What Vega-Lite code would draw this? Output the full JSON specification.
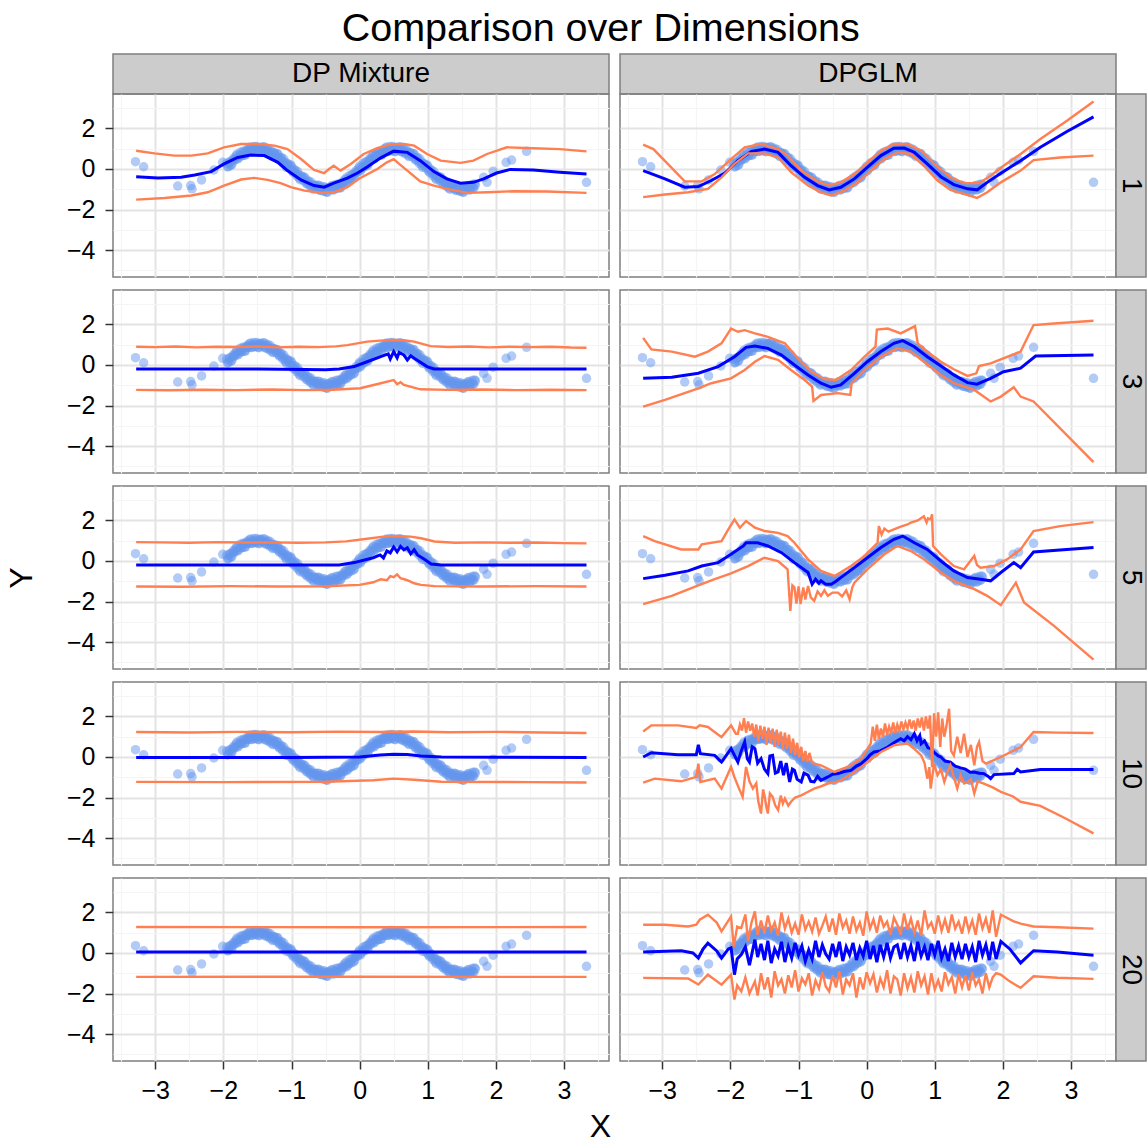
{
"$schema": "https://vega.github.io/schema/vega-lite/v6.json",
"title": {"text": "Comparison over Dimensions", "fontSize": 39.5, "fontWeight": "normal", "font": "Liberation Sans", "color": "#000000", "anchor": "middle", "offset": 4, "dx": 25},
"padding": {"left": 4, "top": 8, "right": 0, "bottom": 0},
"bounds": "flush",
"spacing": 0,
"columns": 4,
"datasets": {
"pts": [
{"x":-3.29,"y":0.36},{"x":-3.17,"y":0.11},{"x":-2.67,"y":-0.84},{"x":-2.48,"y":-0.82},{"x":-2.46,"y":-0.98},{"x":-2.32,"y":-0.54},{"x":-2.14,"y":-0.05},{"x":-2.01,"y":0.33},
{"x":1.82,"y":-0.41},{"x":1.87,"y":-0.66},{"x":1.96,"y":-0.11},{"x":2.15,"y":0.33},{"x":2.23,"y":0.44},{"x":2.45,"y":0.87},{"x":3.33,"y":-0.66},
{"x":-1.95,"y":0.28},{"x":-1.925,"y":0.13},{"x":-1.9,"y":0.34},{"x":-1.875,"y":0.23},{"x":-1.85,"y":0.53},{"x":-1.825,"y":0.47},{"x":-1.8,"y":0.73},{"x":-1.775,"y":0.56},{"x":-1.75,"y":0.83},{"x":-1.725,"y":0.66},{"x":-1.7,"y":0.84},{"x":-1.675,"y":0.7},{"x":-1.65,"y":0.97},{"x":-1.625,"y":0.87},{"x":-1.6,"y":1.09},{"x":-1.575,"y":0.88},{"x":-1.55,"y":1.11},{"x":-1.525,"y":0.9},{"x":-1.5,"y":1.03},{"x":-1.475,"y":0.85},{"x":-1.45,"y":1.07},{"x":-1.425,"y":0.92},{"x":-1.4,"y":1.09},{"x":-1.375,"y":0.83},{"x":-1.35,"y":1.01},{"x":-1.325,"y":0.75},{"x":-1.3,"y":0.84},{"x":-1.275,"y":0.61},{"x":-1.25,"y":0.79},{"x":-1.225,"y":0.6},{"x":-1.2,"y":0.73},{"x":-1.175,"y":0.43},{"x":-1.15,"y":0.57},{"x":-1.125,"y":0.28},{"x":-1.1,"y":0.34},{"x":-1.075,"y":0.08},{"x":-1.05,"y":0.24},{"x":-1.025,"y":0.03},{"x":-1.0,"y":0.14},{"x":-0.975,"y":-0.17},{"x":-0.95,"y":-0.04},{"x":-0.925,"y":-0.33},{"x":-0.9,"y":-0.28},{"x":-0.875,"y":-0.53},{"x":-0.85,"y":-0.37},{"x":-0.825,"y":-0.57},{"x":-0.8,"y":-0.45},{"x":-0.775,"y":-0.74},{"x":-0.75,"y":-0.59},{"x":-0.725,"y":-0.86},{"x":-0.7,"y":-0.78},{"x":-0.675,"y":-1.0},{"x":-0.65,"y":-0.81},{"x":-0.625,"y":-0.97},{"x":-0.6,"y":-0.81},{"x":-0.575,"y":-1.06},{"x":-0.55,"y":-0.87},{"x":-0.525,"y":-1.1},{"x":-0.5,"y":-0.97},{"x":-0.475,"y":-1.15},{"x":-0.45,"y":-0.91},{"x":-0.425,"y":-1.02},{"x":-0.4,"y":-0.81},{"x":-0.375,"y":-1.01},{"x":-0.35,"y":-0.77},{"x":-0.325,"y":-0.95},{"x":-0.3,"y":-0.78},{"x":-0.275,"y":-0.91},{"x":-0.25,"y":-0.63},{"x":-0.225,"y":-0.7},{"x":-0.2,"y":-0.45},{"x":-0.175,"y":-0.61},{"x":-0.15,"y":-0.33},{"x":-0.125,"y":-0.48},{"x":-0.1,"y":-0.28},{"x":-0.075,"y":-0.38},{"x":-0.05,"y":-0.08},{"x":-0.025,"y":-0.13},{"x":0,"y":0.14},{"x":0.025,"y":-0.01},{"x":0.05,"y":0.28},{"x":0.075,"y":0.13},{"x":0.1,"y":0.34},{"x":0.125,"y":0.23},{"x":0.15,"y":0.53},{"x":0.175,"y":0.47},{"x":0.2,"y":0.73},{"x":0.225,"y":0.56},{"x":0.25,"y":0.83},{"x":0.275,"y":0.66},{"x":0.3,"y":0.84},{"x":0.325,"y":0.7},{"x":0.35,"y":0.97},{"x":0.375,"y":0.87},{"x":0.4,"y":1.09},{"x":0.425,"y":0.88},{"x":0.45,"y":1.11},{"x":0.475,"y":0.9},{"x":0.5,"y":1.03},{"x":0.525,"y":0.85},{"x":0.55,"y":1.07},{"x":0.575,"y":0.92},{"x":0.6,"y":1.09},{"x":0.625,"y":0.83},{"x":0.65,"y":1.01},{"x":0.675,"y":0.75},{"x":0.7,"y":0.84},{"x":0.725,"y":0.61},{"x":0.75,"y":0.79},{"x":0.775,"y":0.6},{"x":0.8,"y":0.73},{"x":0.825,"y":0.43},{"x":0.85,"y":0.57},{"x":0.875,"y":0.28},{"x":0.9,"y":0.34},{"x":0.925,"y":0.08},{"x":0.95,"y":0.24},{"x":0.975,"y":0.03},{"x":1.0,"y":0.14},{"x":1.025,"y":-0.17},{"x":1.05,"y":-0.04},{"x":1.075,"y":-0.33},{"x":1.1,"y":-0.28},{"x":1.125,"y":-0.53},{"x":1.15,"y":-0.37},{"x":1.175,"y":-0.57},{"x":1.2,"y":-0.45},{"x":1.225,"y":-0.74},{"x":1.25,"y":-0.59},{"x":1.275,"y":-0.86},{"x":1.3,"y":-0.78},{"x":1.325,"y":-1.0},{"x":1.35,"y":-0.81},{"x":1.375,"y":-0.97},{"x":1.4,"y":-0.81},{"x":1.425,"y":-1.06},{"x":1.45,"y":-0.87},{"x":1.475,"y":-1.1},{"x":1.5,"y":-0.97},{"x":1.525,"y":-1.15},{"x":1.55,"y":-0.91},{"x":1.575,"y":-1.02},{"x":1.6,"y":-0.81},{"x":1.625,"y":-1.01},{"x":1.65,"y":-0.77},{"x":1.675,"y":-0.95},{"x":1.7,"y":-0.78},
{"x":-1.938,"y":0.1},{"x":-1.913,"y":0.34},{"x":-1.888,"y":0.18},{"x":-1.863,"y":0.43},{"x":-1.838,"y":0.44},{"x":-1.813,"y":0.64},{"x":-1.788,"y":0.5},{"x":-1.763,"y":0.68},{"x":-1.738,"y":0.65},{"x":-1.713,"y":0.87},{"x":-1.688,"y":0.68},{"x":-1.663,"y":0.9},{"x":-1.638,"y":0.88},{"x":-1.613,"y":1.04},{"x":-1.588,"y":0.86},{"x":-1.563,"y":1.0},{"x":-1.538,"y":0.93},{"x":-1.513,"y":1.11},{"x":-1.488,"y":0.87},{"x":-1.463,"y":1.05},{"x":-1.438,"y":0.98},{"x":-1.413,"y":1.09},{"x":-1.388,"y":0.86},{"x":-1.363,"y":0.95},{"x":-1.338,"y":0.83},{"x":-1.313,"y":0.96},{"x":-1.288,"y":0.68},{"x":-1.263,"y":0.81},{"x":-1.238,"y":0.7},{"x":-1.213,"y":0.77},{"x":-1.188,"y":0.5},{"x":-1.163,"y":0.55},{"x":-1.138,"y":0.39},{"x":-1.113,"y":0.49},{"x":-1.088,"y":0.18},{"x":-1.063,"y":0.28},{"x":-1.038,"y":0.15},{"x":-1.013,"y":0.2},{"x":-0.988,"y":-0.09},{"x":-0.963,"y":-0.05},{"x":-0.938,"y":-0.22},{"x":-0.913,"y":-0.12},{"x":-0.888,"y":-0.44},{"x":-0.863,"y":-0.33},{"x":-0.838,"y":-0.46},{"x":-0.813,"y":-0.4},{"x":-0.788,"y":-0.68},{"x":-0.763,"y":-0.62},{"x":-0.738,"y":-0.77},{"x":-0.713,"y":-0.65},{"x":-0.688,"y":-0.94},{"x":-0.663,"y":-0.8},{"x":-0.638,"y":-0.9},{"x":-0.613,"y":-0.8},{"x":-0.588,"y":-1.04},{"x":-0.563,"y":-0.94},{"x":-0.538,"y":-1.05},{"x":-0.513,"y":-0.89},{"x":-0.488,"y":-1.13},{"x":-0.463,"y":-0.95},{"x":-0.438,"y":-1.0},{"x":-0.413,"y":-0.85},{"x":-0.388,"y":-1.04},{"x":-0.363,"y":-0.89},{"x":-0.338,"y":-0.95},{"x":-0.313,"y":-0.74},{"x":-0.288,"y":-0.94},{"x":-0.263,"y":-0.71},{"x":-0.238,"y":-0.72},{"x":-0.213,"y":-0.53},{"x":-0.188,"y":-0.68},{"x":-0.163,"y":-0.49},{"x":-0.138,"y":-0.51},{"x":-0.113,"y":-0.27},{"x":-0.088,"y":-0.44},{"x":-0.063,"y":-0.18},{"x":-0.038,"y":-0.17},{"x":-0.013,"y":0.04},{"x":0.012,"y":-0.09},{"x":0.037,"y":0.11},{"x":0.062,"y":0.1},{"x":0.087,"y":0.34},{"x":0.112,"y":0.18},{"x":0.137,"y":0.43},{"x":0.162,"y":0.44},{"x":0.187,"y":0.64},{"x":0.212,"y":0.5},{"x":0.237,"y":0.68},{"x":0.262,"y":0.65},{"x":0.287,"y":0.87},{"x":0.312,"y":0.68},{"x":0.337,"y":0.9},{"x":0.362,"y":0.88},{"x":0.387,"y":1.04},{"x":0.412,"y":0.86},{"x":0.437,"y":1.0},{"x":0.462,"y":0.93},{"x":0.487,"y":1.11},{"x":0.512,"y":0.87},{"x":0.537,"y":1.05},{"x":0.562,"y":0.98},{"x":0.587,"y":1.09},{"x":0.612,"y":0.86},{"x":0.637,"y":0.95},{"x":0.662,"y":0.83},{"x":0.687,"y":0.96},{"x":0.712,"y":0.68},{"x":0.737,"y":0.81},{"x":0.762,"y":0.7},{"x":0.787,"y":0.77},{"x":0.812,"y":0.5},{"x":0.837,"y":0.55},{"x":0.862,"y":0.39},{"x":0.887,"y":0.49},{"x":0.912,"y":0.18},{"x":0.937,"y":0.28},{"x":0.962,"y":0.15},{"x":0.987,"y":0.2},{"x":1.012,"y":-0.09},{"x":1.037,"y":-0.05},{"x":1.062,"y":-0.22},{"x":1.087,"y":-0.12},{"x":1.112,"y":-0.44},{"x":1.137,"y":-0.33},{"x":1.162,"y":-0.46},{"x":1.187,"y":-0.4},{"x":1.212,"y":-0.68},{"x":1.237,"y":-0.62},{"x":1.262,"y":-0.77},{"x":1.287,"y":-0.65},{"x":1.312,"y":-0.94},{"x":1.337,"y":-0.8},{"x":1.362,"y":-0.9},{"x":1.387,"y":-0.8},{"x":1.412,"y":-1.04},{"x":1.437,"y":-0.94},{"x":1.462,"y":-1.05},{"x":1.487,"y":-0.89},{"x":1.512,"y":-1.13},{"x":1.537,"y":-0.95},{"x":1.562,"y":-1.0},{"x":1.587,"y":-0.85},{"x":1.612,"y":-1.04},{"x":1.637,"y":-0.89},{"x":1.662,"y":-0.95},{"x":1.687,"y":-0.74}
],
"a1": [
{"s":"m","x":-3.28,"y":-0.38},{"s":"m","x":-2.96,"y":-0.44},{"s":"m","x":-2.62,"y":-0.41},{"s":"m","x":-2.42,"y":-0.3},{"s":"m","x":-2.18,"y":-0.13},{"s":"m","x":-1.99,"y":0.25},{"s":"m","x":-1.79,"y":0.57},{"s":"m","x":-1.6,"y":0.69},{"s":"m","x":-1.4,"y":0.66},{"s":"m","x":-1.2,"y":0.33},{"s":"m","x":-1.06,"y":-0.08},{"s":"m","x":-0.86,"y":-0.54},{"s":"m","x":-0.67,"y":-0.82},{"s":"m","x":-0.52,"y":-0.9},{"s":"m","x":-0.38,"y":-0.7},{"s":"m","x":-0.18,"y":-0.45},{"s":"m","x":-0.03,"y":-0.2},{"s":"m","x":0.11,"y":0.1},{"s":"m","x":0.31,"y":0.55},{"s":"m","x":0.5,"y":0.88},{"s":"m","x":0.7,"y":0.82},{"s":"m","x":0.89,"y":0.41},{"s":"m","x":1.09,"y":-0.13},{"s":"m","x":1.28,"y":-0.49},{"s":"m","x":1.48,"y":-0.7},{"s":"m","x":1.67,"y":-0.66},{"s":"m","x":1.82,"y":-0.49},{"s":"m","x":2.01,"y":-0.2},{"s":"m","x":2.21,"y":-0.02},{"s":"m","x":2.55,"y":-0.05},{"s":"m","x":2.94,"y":-0.16},{"s":"m","x":3.33,"y":-0.25},
{"s":"u","x":-3.28,"y":0.9},{"s":"u","x":-3.01,"y":0.77},{"s":"u","x":-2.72,"y":0.66},{"s":"u","x":-2.47,"y":0.66},{"s":"u","x":-2.23,"y":0.77},{"s":"u","x":-1.99,"y":1.07},{"s":"u","x":-1.74,"y":1.23},{"s":"u","x":-1.5,"y":1.23},{"s":"u","x":-1.25,"y":1.15},{"s":"u","x":-1.06,"y":0.98},{"s":"u","x":-0.86,"y":0.49},{"s":"u","x":-0.67,"y":-0.05},{"s":"u","x":-0.52,"y":-0.21},{"s":"u","x":-0.45,"y":0.0},{"s":"u","x":-0.38,"y":0.16},{"s":"u","x":-0.28,"y":-0.08},{"s":"u","x":-0.13,"y":0.25},{"s":"u","x":0.06,"y":0.74},{"s":"u","x":0.26,"y":1.03},{"s":"u","x":0.45,"y":1.2},{"s":"u","x":0.65,"y":1.23},{"s":"u","x":0.8,"y":1.15},{"s":"u","x":0.99,"y":0.74},{"s":"u","x":1.19,"y":0.41},{"s":"u","x":1.48,"y":0.3},{"s":"u","x":1.67,"y":0.41},{"s":"u","x":1.87,"y":0.74},{"s":"u","x":2.16,"y":1.07},{"s":"u","x":2.55,"y":1.02},{"s":"u","x":2.94,"y":0.98},{"s":"u","x":3.33,"y":0.87},
{"s":"l","x":-3.28,"y":-1.51},{"s":"l","x":-2.86,"y":-1.43},{"s":"l","x":-2.47,"y":-1.31},{"s":"l","x":-2.23,"y":-1.15},{"s":"l","x":-1.99,"y":-0.82},{"s":"l","x":-1.74,"y":-0.52},{"s":"l","x":-1.55,"y":-0.44},{"s":"l","x":-1.35,"y":-0.54},{"s":"l","x":-1.16,"y":-0.7},{"s":"l","x":-1.01,"y":-0.9},{"s":"l","x":-0.81,"y":-1.07},{"s":"l","x":-0.57,"y":-1.18},{"s":"l","x":-0.38,"y":-1.15},{"s":"l","x":-0.18,"y":-0.9},{"s":"l","x":0.01,"y":-0.44},{"s":"l","x":0.26,"y":0.0},{"s":"l","x":0.4,"y":0.33},{"s":"l","x":0.5,"y":0.49},{"s":"l","x":0.58,"y":0.25},{"s":"l","x":0.7,"y":-0.08},{"s":"l","x":0.89,"y":-0.61},{"s":"l","x":1.09,"y":-0.82},{"s":"l","x":1.28,"y":-0.98},{"s":"l","x":1.58,"y":-1.18},{"s":"l","x":1.87,"y":-1.15},{"s":"l","x":2.26,"y":-1.1},{"s":"l","x":2.75,"y":-1.11},{"s":"l","x":3.33,"y":-1.18}
],
"b1": [
{"s":"m","x":-3.28,"y":-0.08},{"s":"m","x":-2.96,"y":-0.49},{"s":"m","x":-2.67,"y":-0.9},{"s":"m","x":-2.47,"y":-0.87},{"s":"m","x":-2.28,"y":-0.57},{"s":"m","x":-2.08,"y":-0.2},{"s":"m","x":-1.89,"y":0.41},{"s":"m","x":-1.69,"y":0.87},{"s":"m","x":-1.5,"y":0.98},{"s":"m","x":-1.3,"y":0.82},{"s":"m","x":-1.11,"y":0.16},{"s":"m","x":-0.91,"y":-0.41},{"s":"m","x":-0.72,"y":-0.82},{"s":"m","x":-0.55,"y":-1.03},{"s":"m","x":-0.38,"y":-0.9},{"s":"m","x":-0.18,"y":-0.49},{"s":"m","x":0.01,"y":0.08},{"s":"m","x":0.21,"y":0.66},{"s":"m","x":0.4,"y":1.02},{"s":"m","x":0.55,"y":1.03},{"s":"m","x":0.7,"y":0.82},{"s":"m","x":0.89,"y":0.25},{"s":"m","x":1.09,"y":-0.38},{"s":"m","x":1.28,"y":-0.77},{"s":"m","x":1.48,"y":-0.98},{"s":"m","x":1.62,"y":-1.03},{"s":"m","x":1.77,"y":-0.66},{"s":"m","x":1.97,"y":-0.21},{"s":"m","x":2.26,"y":0.41},{"s":"m","x":2.55,"y":1.07},{"s":"m","x":2.94,"y":1.85},{"s":"m","x":3.33,"y":2.57},
{"s":"u","x":-3.28,"y":1.2},{"s":"u","x":-3.13,"y":0.98},{"s":"u","x":-2.67,"y":-0.61},{"s":"u","x":-2.42,"y":-0.61},{"s":"u","x":-2.23,"y":-0.25},{"s":"u","x":-1.99,"y":0.49},{"s":"u","x":-1.79,"y":1.07},{"s":"u","x":-1.55,"y":1.23},{"s":"u","x":-1.3,"y":0.98},{"s":"u","x":-1.16,"y":0.66},{"s":"u","x":-0.96,"y":-0.08},{"s":"u","x":-0.72,"y":-0.61},{"s":"u","x":-0.55,"y":-0.82},{"s":"u","x":-0.38,"y":-0.66},{"s":"u","x":-0.18,"y":-0.25},{"s":"u","x":0.01,"y":0.33},{"s":"u","x":0.21,"y":0.9},{"s":"u","x":0.4,"y":1.23},{"s":"u","x":0.6,"y":1.23},{"s":"u","x":0.8,"y":0.9},{"s":"u","x":0.99,"y":0.25},{"s":"u","x":1.23,"y":-0.41},{"s":"u","x":1.43,"y":-0.7},{"s":"u","x":1.65,"y":-0.7},{"s":"u","x":1.82,"y":-0.33},{"s":"u","x":2.01,"y":0.16},{"s":"u","x":2.26,"y":0.74},{"s":"u","x":2.55,"y":1.48},{"s":"u","x":2.94,"y":2.38},{"s":"u","x":3.33,"y":3.33},
{"s":"l","x":-3.28,"y":-1.39},{"s":"l","x":-2.96,"y":-1.26},{"s":"l","x":-2.62,"y":-1.15},{"s":"l","x":-2.33,"y":-0.98},{"s":"l","x":-2.13,"y":-0.41},{"s":"l","x":-1.94,"y":0.25},{"s":"l","x":-1.74,"y":0.77},{"s":"l","x":-1.5,"y":0.77},{"s":"l","x":-1.3,"y":0.57},{"s":"l","x":-1.11,"y":-0.16},{"s":"l","x":-0.86,"y":-0.82},{"s":"l","x":-0.67,"y":-1.15},{"s":"l","x":-0.52,"y":-1.31},{"s":"l","x":-0.33,"y":-1.07},{"s":"l","x":-0.13,"y":-0.66},{"s":"l","x":0.06,"y":-0.08},{"s":"l","x":0.26,"y":0.49},{"s":"l","x":0.45,"y":0.82},{"s":"l","x":0.65,"y":0.74},{"s":"l","x":0.84,"y":0.16},{"s":"l","x":1.04,"y":-0.57},{"s":"l","x":1.23,"y":-1.03},{"s":"l","x":1.43,"y":-1.23},{"s":"l","x":1.62,"y":-1.43},{"s":"l","x":1.77,"y":-1.15},{"s":"l","x":1.97,"y":-0.66},{"s":"l","x":2.26,"y":-0.08},{"s":"l","x":2.45,"y":0.44},{"s":"l","x":2.84,"y":0.57},{"s":"l","x":3.33,"y":0.66}
],
"a3": [
{"s":"u","x":-3.28,"y":0.9},{"s":"u","x":-3.0,"y":0.88},{"s":"u","x":-2.7,"y":0.91},{"s":"u","x":-2.4,"y":0.87},{"s":"u","x":-2.1,"y":0.9},{"s":"u","x":-1.8,"y":0.89},{"s":"u","x":-1.5,"y":0.91},{"s":"u","x":-1.2,"y":0.87},{"s":"u","x":-0.9,"y":0.9},{"s":"u","x":-0.6,"y":0.88},{"s":"u","x":-0.35,"y":0.92},{"s":"u","x":-0.18,"y":0.98},{"s":"u","x":0.11,"y":1.15},{"s":"u","x":0.3,"y":1.2},{"s":"u","x":0.5,"y":1.23},{"s":"u","x":0.65,"y":1.22},{"s":"u","x":0.8,"y":1.15},{"s":"u","x":1.04,"y":0.93},{"s":"u","x":1.3,"y":0.89},{"s":"u","x":1.6,"y":0.91},{"s":"u","x":1.9,"y":0.87},{"s":"u","x":2.2,"y":0.9},{"s":"u","x":2.5,"y":0.88},{"s":"u","x":2.8,"y":0.9},{"s":"u","x":3.1,"y":0.86},{"s":"u","x":3.33,"y":0.85},
{"s":"m","x":-3.28,"y":-0.2},{"s":"m","x":-2.5,"y":-0.2},{"s":"m","x":-1.5,"y":-0.2},{"s":"m","x":-0.8,"y":-0.22},{"s":"m","x":-0.5,"y":-0.24},{"s":"m","x":-0.3,"y":-0.2},{"s":"m","x":-0.08,"y":-0.08},{"s":"m","x":0.11,"y":0.16},{"s":"m","x":0.31,"y":0.41},{"s":"m","x":0.42,"y":0.55},{"s":"m","x":0.45,"y":0.3},{"s":"m","x":0.5,"y":0.66},{"s":"m","x":0.55,"y":0.35},{"s":"m","x":0.58,"y":0.62},{"s":"m","x":0.65,"y":0.49},{"s":"m","x":0.7,"y":0.25},{"s":"m","x":0.75,"y":0.45},{"s":"m","x":0.8,"y":0.33},{"s":"m","x":0.99,"y":-0.08},{"s":"m","x":1.09,"y":-0.2},{"s":"m","x":2.0,"y":-0.2},{"s":"m","x":3.33,"y":-0.2},
{"s":"l","x":-3.28,"y":-1.23},{"s":"l","x":-2.8,"y":-1.25},{"s":"l","x":-2.3,"y":-1.22},{"s":"l","x":-1.8,"y":-1.24},{"s":"l","x":-1.3,"y":-1.21},{"s":"l","x":-0.8,"y":-1.24},{"s":"l","x":-0.4,"y":-1.22},{"s":"l","x":0.01,"y":-1.15},{"s":"l","x":0.31,"y":-0.9},{"s":"l","x":0.45,"y":-0.78},{"s":"l","x":0.5,"y":-0.74},{"s":"l","x":0.55,"y":-0.95},{"s":"l","x":0.6,"y":-0.85},{"s":"l","x":0.65,"y":-0.98},{"s":"l","x":0.89,"y":-1.2},{"s":"l","x":1.3,"y":-1.23},{"s":"l","x":1.8,"y":-1.21},{"s":"l","x":2.3,"y":-1.24},{"s":"l","x":2.8,"y":-1.22},{"s":"l","x":3.33,"y":-1.24}
],
"b3": [
{"s":"u","x":-3.28,"y":1.34},{"s":"u","x":-3.16,"y":0.77},{"s":"u","x":-2.86,"y":0.66},{"s":"u","x":-2.52,"y":0.41},{"s":"u","x":-2.33,"y":0.66},{"s":"u","x":-2.13,"y":1.07},{"s":"u","x":-1.99,"y":1.8},{"s":"u","x":-1.89,"y":1.64},{"s":"u","x":-1.79,"y":1.72},{"s":"u","x":-1.64,"y":1.56},{"s":"u","x":-1.45,"y":1.39},{"s":"u","x":-1.2,"y":1.07},{"s":"u","x":-1.01,"y":0.33},{"s":"u","x":-0.81,"y":-0.33},{"s":"u","x":-0.62,"y":-0.7},{"s":"u","x":-0.45,"y":-0.74},{"s":"u","x":-0.23,"y":-0.25},{"s":"u","x":-0.03,"y":0.41},{"s":"u","x":0.13,"y":0.9},{"s":"u","x":0.15,"y":1.75},{"s":"u","x":0.31,"y":1.8},{"s":"u","x":0.5,"y":1.56},{"s":"u","x":0.71,"y":1.92},{"s":"u","x":0.75,"y":1.07},{"s":"u","x":0.89,"y":0.66},{"s":"u","x":1.09,"y":0.16},{"s":"u","x":1.28,"y":-0.21},{"s":"u","x":1.48,"y":-0.54},{"s":"u","x":1.61,"y":-0.41},{"s":"u","x":1.65,"y":-0.05},{"s":"u","x":1.82,"y":0.08},{"s":"u","x":2.26,"y":0.66},{"s":"u","x":2.45,"y":1.97},{"s":"u","x":2.75,"y":2.05},{"s":"u","x":3.33,"y":2.18},
{"s":"m","x":-3.28,"y":-0.66},{"s":"m","x":-2.86,"y":-0.61},{"s":"m","x":-2.47,"y":-0.41},{"s":"m","x":-2.18,"y":-0.08},{"s":"m","x":-1.94,"y":0.41},{"s":"m","x":-1.77,"y":0.87},{"s":"m","x":-1.64,"y":0.93},{"s":"m","x":-1.45,"y":0.82},{"s":"m","x":-1.25,"y":0.49},{"s":"m","x":-1.06,"y":0.0},{"s":"m","x":-0.86,"y":-0.49},{"s":"m","x":-0.67,"y":-0.9},{"s":"m","x":-0.52,"y":-1.1},{"s":"m","x":-0.38,"y":-0.98},{"s":"m","x":-0.18,"y":-0.41},{"s":"m","x":0.01,"y":0.16},{"s":"m","x":0.21,"y":0.66},{"s":"m","x":0.4,"y":1.07},{"s":"m","x":0.53,"y":1.2},{"s":"m","x":0.7,"y":0.9},{"s":"m","x":0.89,"y":0.41},{"s":"m","x":1.09,"y":-0.05},{"s":"m","x":1.28,"y":-0.49},{"s":"m","x":1.48,"y":-0.87},{"s":"m","x":1.62,"y":-0.95},{"s":"m","x":1.82,"y":-0.66},{"s":"m","x":2.01,"y":-0.33},{"s":"m","x":2.26,"y":-0.16},{"s":"m","x":2.48,"y":0.44},{"s":"m","x":3.33,"y":0.49},
{"s":"l","x":-3.28,"y":-2.05},{"s":"l","x":-2.96,"y":-1.72},{"s":"l","x":-2.47,"y":-1.15},{"s":"l","x":-2.28,"y":-0.9},{"s":"l","x":-1.99,"y":-0.66},{"s":"l","x":-1.79,"y":-0.25},{"s":"l","x":-1.64,"y":0.16},{"s":"l","x":-1.5,"y":0.44},{"s":"l","x":-1.3,"y":0.25},{"s":"l","x":-1.11,"y":-0.25},{"s":"l","x":-0.91,"y":-0.74},{"s":"l","x":-0.8,"y":-1.07},{"s":"l","x":-0.78,"y":-1.77},{"s":"l","x":-0.67,"y":-1.48},{"s":"l","x":-0.42,"y":-1.39},{"s":"l","x":-0.24,"y":-1.48},{"s":"l","x":-0.22,"y":-0.9},{"s":"l","x":-0.03,"y":-0.25},{"s":"l","x":0.21,"y":0.41},{"s":"l","x":0.45,"y":0.82},{"s":"l","x":0.65,"y":0.66},{"s":"l","x":0.84,"y":0.16},{"s":"l","x":1.09,"y":-0.49},{"s":"l","x":1.28,"y":-0.9},{"s":"l","x":1.58,"y":-1.23},{"s":"l","x":1.82,"y":-1.8},{"s":"l","x":1.97,"y":-1.56},{"s":"l","x":2.16,"y":-1.1},{"s":"l","x":2.26,"y":-1.56},{"s":"l","x":2.45,"y":-1.8},{"s":"l","x":3.33,"y":-4.79}
],
"a5": [
{"s":"u","x":-3.28,"y":0.93},{"s":"u","x":-2.9,"y":0.92},{"s":"u","x":-2.5,"y":0.9},{"s":"u","x":-2.1,"y":0.93},{"s":"u","x":-1.7,"y":0.91},{"s":"u","x":-1.3,"y":0.92},{"s":"u","x":-0.9,"y":0.9},{"s":"u","x":-0.5,"y":0.92},{"s":"u","x":-0.2,"y":0.97},{"s":"u","x":0.11,"y":1.1},{"s":"u","x":0.35,"y":1.2},{"s":"u","x":0.55,"y":1.23},{"s":"u","x":0.75,"y":1.2},{"s":"u","x":0.9,"y":1.12},{"s":"u","x":1.1,"y":0.96},{"s":"u","x":1.4,"y":0.9},{"s":"u","x":1.8,"y":0.92},{"s":"u","x":2.2,"y":0.9},{"s":"u","x":2.6,"y":0.91},{"s":"u","x":3.0,"y":0.88},{"s":"u","x":3.33,"y":0.87},
{"s":"m","x":-3.28,"y":-0.2},{"s":"m","x":-1.0,"y":-0.2},{"s":"m","x":-0.3,"y":-0.2},{"s":"m","x":-0.08,"y":-0.08},{"s":"m","x":0.2,"y":0.16},{"s":"m","x":0.3,"y":0.3},{"s":"m","x":0.35,"y":0.15},{"s":"m","x":0.4,"y":0.5},{"s":"m","x":0.45,"y":0.4},{"s":"m","x":0.5,"y":0.69},{"s":"m","x":0.55,"y":0.45},{"s":"m","x":0.6,"y":0.72},{"s":"m","x":0.65,"y":0.55},{"s":"m","x":0.7,"y":0.65},{"s":"m","x":0.75,"y":0.35},{"s":"m","x":0.8,"y":0.55},{"s":"m","x":0.85,"y":0.3},{"s":"m","x":0.95,"y":0.08},{"s":"m","x":1.05,"y":-0.15},{"s":"m","x":1.2,"y":-0.2},{"s":"m","x":3.33,"y":-0.2},
{"s":"l","x":-3.28,"y":-1.26},{"s":"l","x":-2.6,"y":-1.27},{"s":"l","x":-1.9,"y":-1.24},{"s":"l","x":-1.2,"y":-1.26},{"s":"l","x":-0.5,"y":-1.25},{"s":"l","x":0.0,"y":-1.18},{"s":"l","x":0.2,"y":-1.05},{"s":"l","x":0.31,"y":-0.9},{"s":"l","x":0.4,"y":-0.95},{"s":"l","x":0.45,"y":-0.75},{"s":"l","x":0.5,"y":-0.8},{"s":"l","x":0.55,"y":-0.66},{"s":"l","x":0.6,"y":-0.85},{"s":"l","x":0.7,"y":-0.95},{"s":"l","x":0.8,"y":-1.1},{"s":"l","x":0.9,"y":-1.18},{"s":"l","x":1.1,"y":-1.24},{"s":"l","x":1.8,"y":-1.26},{"s":"l","x":2.6,"y":-1.24},{"s":"l","x":3.33,"y":-1.26}
],
"b5": [
{"s":"u","x":-3.28,"y":1.23},{"s":"u","x":-3.11,"y":0.98},{"s":"u","x":-2.72,"y":0.57},{"s":"u","x":-2.47,"y":0.57},{"s":"u","x":-2.42,"y":0.82},{"s":"u","x":-2.13,"y":0.98},{"s":"u","x":-2.03,"y":1.56},{"s":"u","x":-1.94,"y":2.05},{"s":"u","x":-1.86,"y":1.64},{"s":"u","x":-1.77,"y":1.97},{"s":"u","x":-1.64,"y":1.64},{"s":"u","x":-1.5,"y":1.48},{"s":"u","x":-1.3,"y":1.39},{"s":"u","x":-1.16,"y":1.23},{"s":"u","x":-1.06,"y":0.9},{"s":"u","x":-0.86,"y":0.08},{"s":"u","x":-0.67,"y":-0.49},{"s":"u","x":-0.47,"y":-0.74},{"s":"u","x":-0.23,"y":-0.25},{"s":"u","x":-0.03,"y":0.25},{"s":"u","x":0.16,"y":0.9},{"s":"u","x":0.18,"y":1.72},{"s":"u","x":0.22,"y":1.3},{"s":"u","x":0.26,"y":1.6},{"s":"u","x":0.32,"y":1.45},{"s":"u","x":0.4,"y":1.56},{"s":"u","x":0.5,"y":1.7},{"s":"u","x":0.6,"y":1.8},{"s":"u","x":0.65,"y":1.89},{"s":"u","x":0.75,"y":2.0},{"s":"u","x":0.84,"y":2.21},{"s":"u","x":0.88,"y":1.9},{"s":"u","x":0.9,"y":2.1},{"s":"u","x":0.94,"y":2.05},{"s":"u","x":0.96,"y":2.3},{"s":"u","x":0.975,"y":0.74},{"s":"u","x":1.09,"y":0.33},{"s":"u","x":1.28,"y":-0.25},{"s":"u","x":1.43,"y":-0.41},{"s":"u","x":1.5,"y":-0.1},{"s":"u","x":1.58,"y":0.25},{"s":"u","x":1.62,"y":-0.2},{"s":"u","x":1.67,"y":-0.33},{"s":"u","x":1.87,"y":-0.25},{"s":"u","x":2.06,"y":0.08},{"s":"u","x":2.26,"y":0.57},{"s":"u","x":2.45,"y":1.48},{"s":"u","x":2.84,"y":1.72},{"s":"u","x":3.33,"y":1.92},
{"s":"m","x":-3.28,"y":-0.87},{"s":"m","x":-2.96,"y":-0.7},{"s":"m","x":-2.62,"y":-0.49},{"s":"m","x":-2.42,"y":-0.25},{"s":"m","x":-2.18,"y":-0.08},{"s":"m","x":-1.99,"y":0.33},{"s":"m","x":-1.81,"y":0.74},{"s":"m","x":-1.77,"y":0.9},{"s":"m","x":-1.6,"y":0.9},{"s":"m","x":-1.45,"y":0.74},{"s":"m","x":-1.25,"y":0.41},{"s":"m","x":-1.06,"y":-0.08},{"s":"m","x":-0.86,"y":-0.57},{"s":"m","x":-0.8,"y":-1.15},{"s":"m","x":-0.75,"y":-0.9},{"s":"m","x":-0.7,"y":-1.1},{"s":"m","x":-0.67,"y":-0.98},{"s":"m","x":-0.6,"y":-1.15},{"s":"m","x":-0.52,"y":-1.15},{"s":"m","x":-0.45,"y":-1.0},{"s":"m","x":-0.38,"y":-0.82},{"s":"m","x":-0.18,"y":-0.33},{"s":"m","x":0.01,"y":0.16},{"s":"m","x":0.21,"y":0.66},{"s":"m","x":0.4,"y":1.07},{"s":"m","x":0.53,"y":1.23},{"s":"m","x":0.7,"y":0.9},{"s":"m","x":0.89,"y":0.57},{"s":"m","x":1.09,"y":0.0},{"s":"m","x":1.28,"y":-0.49},{"s":"m","x":1.48,"y":-0.82},{"s":"m","x":1.67,"y":-0.9},{"s":"m","x":1.82,"y":-0.98},{"s":"m","x":1.97,"y":-0.57},{"s":"m","x":2.16,"y":-0.08},{"s":"m","x":2.26,"y":-0.33},{"s":"m","x":2.45,"y":0.44},{"s":"m","x":3.33,"y":0.66},
{"s":"l","x":-3.28,"y":-2.13},{"s":"l","x":-2.86,"y":-1.72},{"s":"l","x":-2.47,"y":-1.2},{"s":"l","x":-2.23,"y":-0.9},{"s":"l","x":-1.99,"y":-0.61},{"s":"l","x":-1.74,"y":-0.25},{"s":"l","x":-1.5,"y":0.16},{"s":"l","x":-1.3,"y":0.0},{"s":"l","x":-1.16,"y":-0.41},{"s":"l","x":-1.12,"y":-2.46},{"s":"l","x":-1.09,"y":-1.2},{"s":"l","x":-1.06,"y":-1.3},{"s":"l","x":-1.03,"y":-2.1},{"s":"l","x":-1.0,"y":-1.25},{"s":"l","x":-0.97,"y":-2.13},{"s":"l","x":-0.93,"y":-1.3},{"s":"l","x":-0.9,"y":-1.9},{"s":"l","x":-0.86,"y":-1.23},{"s":"l","x":-0.82,"y":-1.8},{"s":"l","x":-0.77,"y":-1.97},{"s":"l","x":-0.72,"y":-1.5},{"s":"l","x":-0.67,"y":-1.72},{"s":"l","x":-0.62,"y":-1.45},{"s":"l","x":-0.57,"y":-1.72},{"s":"l","x":-0.5,"y":-1.56},{"s":"l","x":-0.42,"y":-1.56},{"s":"l","x":-0.36,"y":-1.75},{"s":"l","x":-0.3,"y":-1.45},{"s":"l","x":-0.25,"y":-1.89},{"s":"l","x":-0.21,"y":-1.3},{"s":"l","x":-0.18,"y":-1.07},{"s":"l","x":0.01,"y":-0.41},{"s":"l","x":0.26,"y":0.33},{"s":"l","x":0.45,"y":0.74},{"s":"l","x":0.65,"y":0.49},{"s":"l","x":0.84,"y":0.08},{"s":"l","x":1.09,"y":-0.57},{"s":"l","x":1.28,"y":-0.98},{"s":"l","x":1.58,"y":-1.39},{"s":"l","x":1.77,"y":-1.72},{"s":"l","x":1.97,"y":-2.18},{"s":"l","x":2.19,"y":-1.07},{"s":"l","x":2.31,"y":-2.05},{"s":"l","x":2.75,"y":-3.2},{"s":"l","x":3.33,"y":-4.87}
],
"a10": [
{"s":"u","x":-3.28,"y":1.23},{"s":"u","x":-2.5,"y":1.21},{"s":"u","x":-1.8,"y":1.24},{"s":"u","x":-1.0,"y":1.22},{"s":"u","x":-0.3,"y":1.25},{"s":"u","x":0.3,"y":1.23},{"s":"u","x":0.8,"y":1.26},{"s":"u","x":1.3,"y":1.22},{"s":"u","x":2.0,"y":1.24},{"s":"u","x":2.7,"y":1.21},{"s":"u","x":3.33,"y":1.18},
{"s":"m","x":-3.28,"y":-0.02},{"s":"m","x":-1.0,"y":-0.02},{"s":"m","x":0.0,"y":0.0},{"s":"m","x":0.3,"y":0.1},{"s":"m","x":0.5,"y":0.14},{"s":"m","x":0.7,"y":0.12},{"s":"m","x":0.9,"y":0.05},{"s":"m","x":1.2,"y":0.0},{"s":"m","x":3.33,"y":-0.02},
{"s":"l","x":-3.28,"y":-1.23},{"s":"l","x":-2.0,"y":-1.24},{"s":"l","x":-0.5,"y":-1.22},{"s":"l","x":0.2,"y":-1.15},{"s":"l","x":0.5,"y":-1.07},{"s":"l","x":0.8,"y":-1.12},{"s":"l","x":1.2,"y":-1.22},{"s":"l","x":2.5,"y":-1.24},{"s":"l","x":3.33,"y":-1.26}
],
"b10": [
{"s":"u","x":-3.28,"y":1.26},{"s":"u","x":-3.16,"y":1.56},{"s":"u","x":-2.77,"y":1.56},{"s":"u","x":-2.5,"y":1.43},{"s":"u","x":-2.45,"y":1.56},{"s":"u","x":-2.33,"y":1.48},{"s":"u","x":-2.13,"y":0.98},{"s":"u","x":-1.99,"y":1.56},{"s":"u","x":-1.92,"y":1.15},{"s":"u","x":-1.89,"y":1.15},{"s":"u","x":-1.86,"y":1.6},{"s":"u","x":-1.83,"y":1.3},{"s":"u","x":-1.8,"y":1.92},{"s":"u","x":-1.77,"y":1.2},{"s":"u","x":-1.74,"y":1.75},{"s":"u","x":-1.71,"y":1.3},{"s":"u","x":-1.68,"y":1.65},{"s":"u","x":-1.65,"y":1.0},{"s":"u","x":-1.62,"y":1.6},{"s":"u","x":-1.59,"y":0.8},{"s":"u","x":-1.56,"y":1.55},{"s":"u","x":-1.53,"y":0.9},{"s":"u","x":-1.5,"y":1.5},{"s":"u","x":-1.47,"y":0.6},{"s":"u","x":-1.44,"y":1.45},{"s":"u","x":-1.41,"y":0.7},{"s":"u","x":-1.38,"y":1.4},{"s":"u","x":-1.35,"y":0.5},{"s":"u","x":-1.32,"y":1.35},{"s":"u","x":-1.29,"y":0.6},{"s":"u","x":-1.26,"y":1.25},{"s":"u","x":-1.23,"y":0.35},{"s":"u","x":-1.2,"y":1.2},{"s":"u","x":-1.17,"y":0.4},{"s":"u","x":-1.14,"y":1.1},{"s":"u","x":-1.11,"y":0.2},{"s":"u","x":-1.08,"y":0.9},{"s":"u","x":-1.05,"y":0.1},{"s":"u","x":-1.02,"y":0.7},{"s":"u","x":-0.99,"y":0.0},{"s":"u","x":-0.96,"y":0.5},{"s":"u","x":-0.93,"y":-0.2},{"s":"u","x":-0.9,"y":0.3},{"s":"u","x":-0.87,"y":-0.25},{"s":"u","x":-0.84,"y":0.2},{"s":"u","x":-0.8,"y":-0.3},{"s":"u","x":-0.67,"y":-0.41},{"s":"u","x":-0.47,"y":-0.74},{"s":"u","x":-0.28,"y":-0.49},{"s":"u","x":-0.08,"y":-0.08},{"s":"u","x":0.06,"y":0.66},{"s":"u","x":0.09,"y":1.5},{"s":"u","x":0.12,"y":0.8},{"s":"u","x":0.15,"y":1.6},{"s":"u","x":0.18,"y":0.9},{"s":"u","x":0.21,"y":1.4},{"s":"u","x":0.24,"y":1.0},{"s":"u","x":0.27,"y":1.65},{"s":"u","x":0.3,"y":1.1},{"s":"u","x":0.33,"y":1.5},{"s":"u","x":0.36,"y":1.2},{"s":"u","x":0.39,"y":1.7},{"s":"u","x":0.42,"y":1.2},{"s":"u","x":0.45,"y":1.6},{"s":"u","x":0.48,"y":1.3},{"s":"u","x":0.51,"y":1.75},{"s":"u","x":0.54,"y":1.35},{"s":"u","x":0.57,"y":1.7},{"s":"u","x":0.6,"y":1.4},{"s":"u","x":0.63,"y":1.85},{"s":"u","x":0.66,"y":1.4},{"s":"u","x":0.69,"y":1.8},{"s":"u","x":0.72,"y":1.3},{"s":"u","x":0.75,"y":1.9},{"s":"u","x":0.78,"y":1.45},{"s":"u","x":0.81,"y":1.95},{"s":"u","x":0.84,"y":1.3},{"s":"u","x":0.87,"y":2.0},{"s":"u","x":0.9,"y":1.4},{"s":"u","x":0.93,"y":2.05},{"s":"u","x":0.96,"y":-0.5},{"s":"u","x":0.99,"y":2.15},{"s":"u","x":1.02,"y":1.0},{"s":"u","x":1.05,"y":2.2},{"s":"u","x":1.08,"y":0.5},{"s":"u","x":1.11,"y":1.9},{"s":"u","x":1.14,"y":1.0},{"s":"u","x":1.17,"y":1.5},{"s":"u","x":1.21,"y":2.38},{"s":"u","x":1.24,"y":0.3},{"s":"u","x":1.28,"y":0.08},{"s":"u","x":1.33,"y":1.0},{"s":"u","x":1.38,"y":0.2},{"s":"u","x":1.43,"y":1.15},{"s":"u","x":1.48,"y":0.0},{"s":"u","x":1.53,"y":0.6},{"s":"u","x":1.58,"y":-0.41},{"s":"u","x":1.62,"y":0.5},{"s":"u","x":1.65,"y":0.74},{"s":"u","x":1.7,"y":-0.2},{"s":"u","x":1.75,"y":-0.33},{"s":"u","x":1.97,"y":0.0},{"s":"u","x":2.26,"y":0.49},{"s":"u","x":2.45,"y":1.23},{"s":"u","x":2.8,"y":1.2},{"s":"u","x":3.33,"y":1.18},
{"s":"m","x":-3.28,"y":0.0},{"s":"m","x":-3.16,"y":0.21},{"s":"m","x":-2.77,"y":0.11},{"s":"m","x":-2.5,"y":0.11},{"s":"m","x":-2.47,"y":0.6},{"s":"m","x":-2.44,"y":0.16},{"s":"m","x":-2.23,"y":0.08},{"s":"m","x":-2.13,"y":-0.25},{"s":"m","x":-1.99,"y":0.41},{"s":"m","x":-1.89,"y":-0.25},{"s":"m","x":-1.84,"y":0.3},{"s":"m","x":-1.79,"y":0.74},{"s":"m","x":-1.75,"y":-0.1},{"s":"m","x":-1.72,"y":-0.25},{"s":"m","x":-1.68,"y":0.5},{"s":"m","x":-1.64,"y":0.41},{"s":"m","x":-1.6,"y":-0.3},{"s":"m","x":-1.55,"y":-0.08},{"s":"m","x":-1.5,"y":-0.6},{"s":"m","x":-1.45,"y":-0.82},{"s":"m","x":-1.42,"y":0.05},{"s":"m","x":-1.38,"y":0.08},{"s":"m","x":-1.34,"y":-0.8},{"s":"m","x":-1.3,"y":-0.74},{"s":"m","x":-1.26,"y":-0.2},{"s":"m","x":-1.22,"y":-0.9},{"s":"m","x":-1.18,"y":-0.3},{"s":"m","x":-1.13,"y":-1.23},{"s":"m","x":-1.09,"y":-0.6},{"s":"m","x":-1.06,"y":-0.66},{"s":"m","x":-1.02,"y":-1.1},{"s":"m","x":-0.96,"y":-1.23},{"s":"m","x":-0.92,"y":-0.8},{"s":"m","x":-0.86,"y":-0.9},{"s":"m","x":-0.82,"y":-1.2},{"s":"m","x":-0.77,"y":-1.23},{"s":"m","x":-0.72,"y":-0.95},{"s":"m","x":-0.67,"y":-1.15},{"s":"m","x":-0.62,"y":-1.07},{"s":"m","x":-0.55,"y":-0.95},{"s":"m","x":-0.5,"y":-0.85},{"s":"m","x":-0.42,"y":-0.82},{"s":"m","x":-0.33,"y":-0.72},{"s":"m","x":-0.23,"y":-0.66},{"s":"m","x":-0.15,"y":-0.45},{"s":"m","x":-0.08,"y":-0.33},{"s":"m","x":0.0,"y":-0.1},{"s":"m","x":0.05,"y":0.1},{"s":"m","x":0.11,"y":0.25},{"s":"m","x":0.2,"y":0.3},{"s":"m","x":0.31,"y":0.49},{"s":"m","x":0.4,"y":0.7},{"s":"m","x":0.5,"y":0.9},{"s":"m","x":0.55,"y":0.8},{"s":"m","x":0.6,"y":1.0},{"s":"m","x":0.65,"y":0.85},{"s":"m","x":0.7,"y":1.15},{"s":"m","x":0.74,"y":0.8},{"s":"m","x":0.78,"y":1.05},{"s":"m","x":0.8,"y":0.66},{"s":"m","x":0.85,"y":0.8},{"s":"m","x":0.9,"y":0.45},{"s":"m","x":0.94,"y":0.41},{"s":"m","x":1.0,"y":0.2},{"s":"m","x":1.05,"y":0.05},{"s":"m","x":1.09,"y":0.0},{"s":"m","x":1.15,"y":-0.2},{"s":"m","x":1.23,"y":-0.25},{"s":"m","x":1.3,"y":-0.45},{"s":"m","x":1.38,"y":-0.54},{"s":"m","x":1.45,"y":-0.6},{"s":"m","x":1.52,"y":-0.75},{"s":"m","x":1.58,"y":-0.74},{"s":"m","x":1.65,"y":-0.8},{"s":"m","x":1.72,"y":-0.82},{"s":"m","x":1.78,"y":-0.95},{"s":"m","x":1.82,"y":-1.07},{"s":"m","x":1.87,"y":-0.87},{"s":"m","x":2.16,"y":-0.82},{"s":"m","x":2.21,"y":-0.61},{"s":"m","x":2.26,"y":-0.74},{"s":"m","x":2.55,"y":-0.62},{"s":"m","x":3.33,"y":-0.62},
{"s":"l","x":-3.28,"y":-1.26},{"s":"l","x":-3.11,"y":-1.07},{"s":"l","x":-2.72,"y":-1.2},{"s":"l","x":-2.5,"y":-0.98},{"s":"l","x":-2.47,"y":-0.33},{"s":"l","x":-2.44,"y":-1.23},{"s":"l","x":-2.23,"y":-1.07},{"s":"l","x":-2.13,"y":-1.56},{"s":"l","x":-1.99,"y":-0.49},{"s":"l","x":-1.94,"y":-1.0},{"s":"l","x":-1.88,"y":-1.5},{"s":"l","x":-1.82,"y":-1.97},{"s":"l","x":-1.77,"y":-0.49},{"s":"l","x":-1.72,"y":-1.2},{"s":"l","x":-1.67,"y":-1.56},{"s":"l","x":-1.62,"y":-1.3},{"s":"l","x":-1.59,"y":-2.2},{"s":"l","x":-1.55,"y":-2.79},{"s":"l","x":-1.52,"y":-1.6},{"s":"l","x":-1.5,"y":-1.89},{"s":"l","x":-1.47,"y":-2.5},{"s":"l","x":-1.45,"y":-2.79},{"s":"l","x":-1.42,"y":-1.8},{"s":"l","x":-1.38,"y":-1.97},{"s":"l","x":-1.34,"y":-2.4},{"s":"l","x":-1.3,"y":-2.62},{"s":"l","x":-1.26,"y":-1.9},{"s":"l","x":-1.23,"y":-2.3},{"s":"l","x":-1.2,"y":-2.05},{"s":"l","x":-1.15,"y":-2.4},{"s":"l","x":-1.11,"y":-2.21},{"s":"l","x":-1.05,"y":-2.0},{"s":"l","x":-0.96,"y":-1.89},{"s":"l","x":-0.88,"y":-1.75},{"s":"l","x":-0.77,"y":-1.56},{"s":"l","x":-0.67,"y":-1.45},{"s":"l","x":-0.57,"y":-1.31},{"s":"l","x":-0.47,"y":-1.25},{"s":"l","x":-0.38,"y":-1.15},{"s":"l","x":-0.28,"y":-0.95},{"s":"l","x":-0.18,"y":-0.74},{"s":"l","x":-0.08,"y":-0.5},{"s":"l","x":0.01,"y":-0.25},{"s":"l","x":0.11,"y":0.0},{"s":"l","x":0.21,"y":0.25},{"s":"l","x":0.3,"y":0.4},{"s":"l","x":0.4,"y":0.57},{"s":"l","x":0.5,"y":0.62},{"s":"l","x":0.6,"y":0.66},{"s":"l","x":0.7,"y":0.4},{"s":"l","x":0.8,"y":0.08},{"s":"l","x":0.85,"y":-0.3},{"s":"l","x":0.89,"y":-1.07},{"s":"l","x":0.92,"y":-0.5},{"s":"l","x":0.94,"y":-1.56},{"s":"l","x":0.99,"y":-0.33},{"s":"l","x":1.04,"y":-0.9},{"s":"l","x":1.09,"y":-0.6},{"s":"l","x":1.14,"y":-1.23},{"s":"l","x":1.19,"y":-0.7},{"s":"l","x":1.23,"y":-0.41},{"s":"l","x":1.28,"y":-1.0},{"s":"l","x":1.33,"y":-1.56},{"s":"l","x":1.38,"y":-0.9},{"s":"l","x":1.43,"y":-1.3},{"s":"l","x":1.48,"y":-1.23},{"s":"l","x":1.53,"y":-1.1},{"s":"l","x":1.58,"y":-1.8},{"s":"l","x":1.63,"y":-1.2},{"s":"l","x":1.72,"y":-1.31},{"s":"l","x":1.85,"y":-1.5},{"s":"l","x":1.97,"y":-1.72},{"s":"l","x":2.15,"y":-1.95},{"s":"l","x":2.26,"y":-2.21},{"s":"l","x":2.55,"y":-2.41},{"s":"l","x":2.9,"y":-3.0},{"s":"l","x":3.33,"y":-3.77}
],
"a20": [
{"s":"u","x":-3.28,"y":1.28},{"s":"u","x":0.0,"y":1.27},{"s":"u","x":3.33,"y":1.28},
{"s":"m","x":-3.28,"y":0.05},{"s":"m","x":3.33,"y":0.05},
{"s":"l","x":-3.28,"y":-1.18},{"s":"l","x":0.0,"y":-1.17},{"s":"l","x":3.33,"y":-1.18}
],
"b20": [
{"s":"u","x":-3.28,"y":1.39},{"s":"u","x":-2.96,"y":1.39},{"s":"u","x":-2.62,"y":1.31},{"s":"u","x":-2.5,"y":1.4},{"s":"u","x":-2.45,"y":1.64},{"s":"u","x":-2.33,"y":1.89},{"s":"u","x":-2.2,"y":1.5},{"s":"u","x":-2.13,"y":1.07},{"s":"u","x":-2.03,"y":1.6},{"s":"u","x":-1.99,"y":1.8},{"s":"u","x":-1.95,"y":0.3},{"s":"u","x":-1.9,"y":1.3},{"s":"u","x":-1.84,"y":1.23},{"s":"u","x":-1.78,"y":1.9},{"s":"u","x":-1.74,"y":0.6},{"s":"u","x":-1.69,"y":1.5},{"s":"u","x":-1.64,"y":2.05},{"s":"u","x":-1.6,"y":0.9},
{"s":"u","x":-1.55,"y":1.6},{"s":"u","x":-1.5,"y":0.95},{"s":"u","x":-1.45,"y":1.85},{"s":"u","x":-1.4,"y":1.1},{"s":"u","x":-1.35,"y":1.5},{"s":"u","x":-1.3,"y":0.85},{"s":"u","x":-1.25,"y":2.0},{"s":"u","x":-1.2,"y":1.2},{"s":"u","x":-1.15,"y":1.7},{"s":"u","x":-1.1,"y":1.0},{"s":"u","x":-1.05,"y":1.45},{"s":"u","x":-1.0,"y":0.9},{"s":"u","x":-0.95,"y":1.9},{"s":"u","x":-0.9,"y":1.15},{"s":"u","x":-0.85,"y":1.55},{"s":"u","x":-0.8,"y":1.05},{"s":"u","x":-0.75,"y":1.75},{"s":"u","x":-0.7,"y":0.95},{"s":"u","x":-0.65,"y":1.35},{"s":"u","x":-0.6,"y":1.8},
{"s":"u","x":-0.55,"y":1.05},{"s":"u","x":-0.5,"y":1.7},{"s":"u","x":-0.45,"y":0.9},{"s":"u","x":-0.4,"y":1.95},{"s":"u","x":-0.35,"y":1.25},{"s":"u","x":-0.3,"y":1.6},{"s":"u","x":-0.25,"y":0.95},{"s":"u","x":-0.2,"y":1.8},{"s":"u","x":-0.15,"y":1.1},{"s":"u","x":-0.1,"y":1.5},{"s":"u","x":-0.05,"y":0.85},{"s":"u","x":0.0,"y":2.05},{"s":"u","x":0.05,"y":1.2},{"s":"u","x":0.1,"y":1.65},{"s":"u","x":0.15,"y":1.0},{"s":"u","x":0.2,"y":1.85},{"s":"u","x":0.25,"y":1.3},{"s":"u","x":0.3,"y":1.55},{"s":"u","x":0.35,"y":0.9},{"s":"u","x":0.4,"y":1.75},
{"s":"u","x":0.45,"y":1.4},{"s":"u","x":0.5,"y":0.9},{"s":"u","x":0.55,"y":1.95},{"s":"u","x":0.6,"y":1.15},{"s":"u","x":0.65,"y":1.7},{"s":"u","x":0.7,"y":1.0},{"s":"u","x":0.75,"y":1.6},{"s":"u","x":0.8,"y":0.85},{"s":"u","x":0.85,"y":2.1},{"s":"u","x":0.9,"y":1.25},{"s":"u","x":0.95,"y":1.5},{"s":"u","x":1.0,"y":0.95},{"s":"u","x":1.05,"y":1.85},{"s":"u","x":1.1,"y":1.1},{"s":"u","x":1.15,"y":1.65},{"s":"u","x":1.2,"y":1.0},{"s":"u","x":1.25,"y":1.9},{"s":"u","x":1.3,"y":1.2},{"s":"u","x":1.35,"y":1.55},{"s":"u","x":1.4,"y":0.95},
{"s":"u","x":1.45,"y":1.8},{"s":"u","x":1.5,"y":1.1},{"s":"u","x":1.55,"y":1.6},{"s":"u","x":1.6,"y":0.9},{"s":"u","x":1.65,"y":1.95},{"s":"u","x":1.7,"y":1.2},{"s":"u","x":1.75,"y":1.7},{"s":"u","x":1.8,"y":1.0},{"s":"u","x":1.85,"y":2.1},
{"s":"u","x":1.9,"y":0.8},{"s":"u","x":1.97,"y":1.89},{"s":"u","x":2.16,"y":1.56},{"s":"u","x":2.26,"y":1.45},{"s":"u","x":2.45,"y":1.31},{"s":"u","x":2.8,"y":1.27},{"s":"u","x":3.33,"y":1.2},
{"s":"m","x":-3.28,"y":0.05},{"s":"m","x":-2.72,"y":0.11},{"s":"m","x":-2.55,"y":0.0},{"s":"m","x":-2.47,"y":-0.25},{"s":"m","x":-2.4,"y":0.2},{"s":"m","x":-2.33,"y":0.49},{"s":"m","x":-2.2,"y":0.1},{"s":"m","x":-2.13,"y":-0.25},{"s":"m","x":-2.03,"y":0.2},{"s":"m","x":-1.99,"y":0.25},{"s":"m","x":-1.94,"y":-1.07},{"s":"m","x":-1.9,"y":-0.3},{"s":"m","x":-1.84,"y":-0.08},{"s":"m","x":-1.78,"y":0.3},{"s":"m","x":-1.72,"y":-0.6},{"s":"m","x":-1.64,"y":0.66},{"s":"m","x":-1.6,"y":-0.2},
{"s":"m","x":-1.55,"y":0.45},{"s":"m","x":-1.5,"y":-0.35},{"s":"m","x":-1.45,"y":0.6},{"s":"m","x":-1.4,"y":-0.5},{"s":"m","x":-1.35,"y":0.2},{"s":"m","x":-1.3,"y":-0.15},{"s":"m","x":-1.25,"y":0.55},{"s":"m","x":-1.2,"y":-0.45},{"s":"m","x":-1.15,"y":0.3},{"s":"m","x":-1.1,"y":-0.25},{"s":"m","x":-1.05,"y":0.5},{"s":"m","x":-1.0,"y":-0.1},{"s":"m","x":-0.95,"y":0.35},{"s":"m","x":-0.9,"y":-0.4},{"s":"m","x":-0.85,"y":0.15},{"s":"m","x":-0.8,"y":-0.3},{"s":"m","x":-0.75,"y":0.6},{"s":"m","x":-0.7,"y":-0.2},{"s":"m","x":-0.65,"y":0.4},{"s":"m","x":-0.6,"y":-0.05},
{"s":"m","x":-0.55,"y":-0.3},{"s":"m","x":-0.5,"y":0.45},{"s":"m","x":-0.45,"y":-0.2},{"s":"m","x":-0.4,"y":0.55},{"s":"m","x":-0.35,"y":-0.4},{"s":"m","x":-0.3,"y":0.3},{"s":"m","x":-0.25,"y":-0.1},{"s":"m","x":-0.2,"y":0.5},{"s":"m","x":-0.15,"y":-0.35},{"s":"m","x":-0.1,"y":0.25},{"s":"m","x":-0.05,"y":-0.15},{"s":"m","x":0.0,"y":0.6},{"s":"m","x":0.05,"y":-0.3},{"s":"m","x":0.1,"y":0.35},{"s":"m","x":0.15,"y":-0.45},{"s":"m","x":0.2,"y":0.4},{"s":"m","x":0.25,"y":-0.2},{"s":"m","x":0.3,"y":0.5},{"s":"m","x":0.35,"y":-0.25},{"s":"m","x":0.4,"y":0.3},
{"s":"m","x":0.45,"y":0.4},{"s":"m","x":0.5,"y":-0.3},{"s":"m","x":0.55,"y":0.5},{"s":"m","x":0.6,"y":-0.2},{"s":"m","x":0.65,"y":0.35},{"s":"m","x":0.7,"y":-0.4},{"s":"m","x":0.75,"y":0.55},{"s":"m","x":0.8,"y":-0.15},{"s":"m","x":0.85,"y":0.3},{"s":"m","x":0.9,"y":-0.35},{"s":"m","x":0.95,"y":0.45},{"s":"m","x":1.0,"y":-0.1},{"s":"m","x":1.05,"y":0.6},{"s":"m","x":1.1,"y":-0.25},{"s":"m","x":1.15,"y":0.2},{"s":"m","x":1.2,"y":-0.4},{"s":"m","x":1.25,"y":0.5},{"s":"m","x":1.3,"y":-0.2},{"s":"m","x":1.35,"y":0.35},{"s":"m","x":1.4,"y":-0.3},
{"s":"m","x":1.45,"y":0.45},{"s":"m","x":1.5,"y":-0.2},{"s":"m","x":1.55,"y":0.3},{"s":"m","x":1.6,"y":-0.45},{"s":"m","x":1.65,"y":0.6},{"s":"m","x":1.7,"y":-0.1},{"s":"m","x":1.75,"y":0.4},{"s":"m","x":1.8,"y":-0.35},{"s":"m","x":1.85,"y":0.55},
{"s":"m","x":1.9,"y":-0.3},{"s":"m","x":1.97,"y":0.57},{"s":"m","x":2.1,"y":0.2},{"s":"m","x":2.26,"y":-0.49},{"s":"m","x":2.45,"y":0.11},{"s":"m","x":2.8,"y":0.05},{"s":"m","x":3.33,"y":-0.11},
{"s":"l","x":-3.28,"y":-1.23},{"s":"l","x":-2.62,"y":-1.26},{"s":"l","x":-2.47,"y":-1.56},{"s":"l","x":-2.33,"y":-1.07},{"s":"l","x":-2.13,"y":-1.56},{"s":"l","x":-1.99,"y":-1.07},{"s":"l","x":-1.94,"y":-2.3},{"s":"l","x":-1.9,"y":-1.6},{"s":"l","x":-1.84,"y":-1.9},{"s":"l","x":-1.78,"y":-1.2},{"s":"l","x":-1.72,"y":-2.0},{"s":"l","x":-1.64,"y":-1.4},{"s":"l","x":-1.6,"y":-2.1},
{"s":"l","x":-1.55,"y":-1.0},{"s":"l","x":-1.5,"y":-1.8},{"s":"l","x":-1.45,"y":-1.2},{"s":"l","x":-1.4,"y":-2.2},{"s":"l","x":-1.35,"y":-0.9},{"s":"l","x":-1.3,"y":-1.6},{"s":"l","x":-1.25,"y":-1.3},{"s":"l","x":-1.2,"y":-2.0},{"s":"l","x":-1.15,"y":-1.1},{"s":"l","x":-1.1,"y":-1.7},{"s":"l","x":-1.05,"y":-0.85},{"s":"l","x":-1.0,"y":-1.9},{"s":"l","x":-0.95,"y":-1.25},{"s":"l","x":-0.9,"y":-1.55},{"s":"l","x":-0.85,"y":-1.0},{"s":"l","x":-0.8,"y":-2.1},{"s":"l","x":-0.75,"y":-1.35},{"s":"l","x":-0.7,"y":-1.75},{"s":"l","x":-0.65,"y":-0.95},{"s":"l","x":-0.6,"y":-1.65},
{"s":"l","x":-0.55,"y":-1.9},{"s":"l","x":-0.5,"y":-1.1},{"s":"l","x":-0.45,"y":-1.7},{"s":"l","x":-0.4,"y":-0.9},{"s":"l","x":-0.35,"y":-2.05},{"s":"l","x":-0.3,"y":-1.3},{"s":"l","x":-0.25,"y":-1.6},{"s":"l","x":-0.2,"y":-1.0},{"s":"l","x":-0.15,"y":-2.2},{"s":"l","x":-0.1,"y":-1.2},{"s":"l","x":-0.05,"y":-1.8},{"s":"l","x":0.0,"y":-0.95},{"s":"l","x":0.05,"y":-1.5},{"s":"l","x":0.1,"y":-1.05},{"s":"l","x":0.15,"y":-1.95},{"s":"l","x":0.2,"y":-1.25},{"s":"l","x":0.25,"y":-1.7},{"s":"l","x":0.3,"y":-0.85},{"s":"l","x":0.35,"y":-2.0},{"s":"l","x":0.4,"y":-1.15},
{"s":"l","x":0.45,"y":-1.3},{"s":"l","x":0.5,"y":-2.1},{"s":"l","x":0.55,"y":-1.0},{"s":"l","x":0.6,"y":-1.75},{"s":"l","x":0.65,"y":-1.2},{"s":"l","x":0.7,"y":-1.95},{"s":"l","x":0.75,"y":-0.9},{"s":"l","x":0.8,"y":-1.6},{"s":"l","x":0.85,"y":-1.15},{"s":"l","x":0.9,"y":-2.05},{"s":"l","x":0.95,"y":-1.0},{"s":"l","x":1.0,"y":-1.8},{"s":"l","x":1.05,"y":-1.35},{"s":"l","x":1.1,"y":-1.9},{"s":"l","x":1.15,"y":-0.95},{"s":"l","x":1.2,"y":-1.55},{"s":"l","x":1.25,"y":-1.2},{"s":"l","x":1.3,"y":-2.0},{"s":"l","x":1.35,"y":-1.05},{"s":"l","x":1.4,"y":-1.7},
{"s":"l","x":1.45,"y":-1.1},{"s":"l","x":1.5,"y":-1.85},{"s":"l","x":1.55,"y":-0.95},{"s":"l","x":1.6,"y":-1.6},{"s":"l","x":1.65,"y":-1.3},{"s":"l","x":1.7,"y":-2.0},{"s":"l","x":1.75,"y":-1.0},{"s":"l","x":1.8,"y":-1.7},{"s":"l","x":1.85,"y":-1.2},
{"s":"l","x":1.9,"y":-1.0},{"s":"l","x":1.97,"y":-1.07},{"s":"l","x":2.1,"y":-1.4},{"s":"l","x":2.26,"y":-1.72},{"s":"l","x":2.45,"y":-1.15},{"s":"l","x":2.8,"y":-1.22},{"s":"l","x":3.33,"y":-1.28}
]
},
"concat": [
{"width":496,"height":40,"view":{"fill":"#CCCCCC","stroke":"#7F7F7F","strokeWidth":1.5},"data":{"values":[{"label":"DP Mixture"}]},"mark":{"type":"text","fontSize":28,"align":"center","baseline":"middle"},"encoding":{"text":{"field":"label"}}},
{"width":11,"height":1,"view":{"stroke":"transparent"},"data":{"values":[]},"mark":"point"},
{"width":496,"height":40,"view":{"fill":"#CCCCCC","stroke":"#7F7F7F","strokeWidth":1.5},"data":{"values":[{"label":"DPGLM"}]},"mark":{"type":"text","fontSize":28,"align":"center","baseline":"middle"},"encoding":{"text":{"field":"label"}}},
{"width":1,"height":1,"view":{"stroke":"transparent"},"data":{"values":[]},"mark":"point"},

{"width":496,"height":183,"data":{"name":"a1"},"encoding":{"x":{"field":"x","type":"quantitative","scale":{"domain":[-3.62,3.66],"nice":false,"zero":false},"axis":{"values":[-3.5,-3,-2.5,-2,-1.5,-1,-0.5,0,0.5,1,1.5,2,2.5,3,3.5],"labels":false,"ticks":false,"title":null,"gridColor":{"condition":{"test":"datum.value % 1 === 0","value":"#E3E3E3"},"value":"#F5F5F5"},"gridWidth":{"condition":{"test":"datum.value % 1 === 0","value":2},"value":1.2}}},"y":{"field":"y","type":"quantitative","scale":{"domain":[-5.33,3.7],"nice":false,"zero":false},"axis":{"values":[-5,-4,-3,-2,-1,0,1,2,3],"title":null,"labelExpr":"datum.value % 2 === 0 ? datum.label : ''","tickOpacity":{"condition":{"test":"datum.value % 2 === 0","value":1},"value":0},"gridColor":{"condition":{"test":"datum.value % 2 === 0","value":"#E3E3E3"},"value":"#F5F5F5"},"gridWidth":{"condition":{"test":"datum.value % 2 === 0","value":2},"value":1.2}}}},"layer":[{"data":{"name":"pts"},"mark":{"type":"circle","size":90,"color":"#6495ED","opacity":0.5}},{"transform":[{"filter":"datum.s=='m'"}],"mark":{"type":"line","color":"#0000FF","strokeWidth":3}},{"transform":[{"filter":"datum.s!='m'"}],"mark":{"type":"line","color":"#FF7F50","strokeWidth":2.4},"encoding":{"detail":{"field":"s"}}}]},
{"width":11,"height":1,"view":{"stroke":"transparent"},"data":{"values":[]},"mark":"point"},
{"width":496,"height":183,"data":{"name":"b1"},"encoding":{"x":{"field":"x","type":"quantitative","scale":{"domain":[-3.62,3.66],"nice":false,"zero":false},"axis":{"values":[-3.5,-3,-2.5,-2,-1.5,-1,-0.5,0,0.5,1,1.5,2,2.5,3,3.5],"labels":false,"ticks":false,"title":null,"gridColor":{"condition":{"test":"datum.value % 1 === 0","value":"#E3E3E3"},"value":"#F5F5F5"},"gridWidth":{"condition":{"test":"datum.value % 1 === 0","value":2},"value":1.2}}},"y":{"field":"y","type":"quantitative","scale":{"domain":[-5.33,3.7],"nice":false,"zero":false},"axis":{"values":[-5,-4,-3,-2,-1,0,1,2,3],"labels":false,"ticks":false,"title":null,"gridColor":{"condition":{"test":"datum.value % 2 === 0","value":"#E3E3E3"},"value":"#F5F5F5"},"gridWidth":{"condition":{"test":"datum.value % 2 === 0","value":2},"value":1.2}}}},"layer":[{"data":{"name":"pts"},"mark":{"type":"circle","size":90,"color":"#6495ED","opacity":0.5}},{"transform":[{"filter":"datum.s=='m'"}],"mark":{"type":"line","color":"#0000FF","strokeWidth":3}},{"transform":[{"filter":"datum.s!='m'"}],"mark":{"type":"line","color":"#FF7F50","strokeWidth":2.4},"encoding":{"detail":{"field":"s"}}}]},
{"width":30,"height":183,"view":{"fill":"#CCCCCC","stroke":"#7F7F7F","strokeWidth":1.5},"data":{"values":[{"label":"1"}]},"mark":{"type":"text","fontSize":28,"angle":90,"align":"center","baseline":"middle"},"encoding":{"text":{"field":"label"}}},

{"width":1,"height":13,"view":{"stroke":"transparent"},"data":{"values":[]},"mark":"point"},
{"width":1,"height":1,"view":{"stroke":"transparent"},"data":{"values":[]},"mark":"point"},
{"width":1,"height":1,"view":{"stroke":"transparent"},"data":{"values":[]},"mark":"point"},
{"width":1,"height":1,"view":{"stroke":"transparent"},"data":{"values":[]},"mark":"point"},

{"width":496,"height":183,"data":{"name":"a3"},"encoding":{"x":{"field":"x","type":"quantitative","scale":{"domain":[-3.62,3.66],"nice":false,"zero":false},"axis":{"values":[-3.5,-3,-2.5,-2,-1.5,-1,-0.5,0,0.5,1,1.5,2,2.5,3,3.5],"labels":false,"ticks":false,"title":null,"gridColor":{"condition":{"test":"datum.value % 1 === 0","value":"#E3E3E3"},"value":"#F5F5F5"},"gridWidth":{"condition":{"test":"datum.value % 1 === 0","value":2},"value":1.2}}},"y":{"field":"y","type":"quantitative","scale":{"domain":[-5.33,3.7],"nice":false,"zero":false},"axis":{"values":[-5,-4,-3,-2,-1,0,1,2,3],"title":null,"labelExpr":"datum.value % 2 === 0 ? datum.label : ''","tickOpacity":{"condition":{"test":"datum.value % 2 === 0","value":1},"value":0},"gridColor":{"condition":{"test":"datum.value % 2 === 0","value":"#E3E3E3"},"value":"#F5F5F5"},"gridWidth":{"condition":{"test":"datum.value % 2 === 0","value":2},"value":1.2}}}},"layer":[{"data":{"name":"pts"},"mark":{"type":"circle","size":90,"color":"#6495ED","opacity":0.5}},{"transform":[{"filter":"datum.s=='m'"}],"mark":{"type":"line","color":"#0000FF","strokeWidth":3}},{"transform":[{"filter":"datum.s!='m'"}],"mark":{"type":"line","color":"#FF7F50","strokeWidth":2.4},"encoding":{"detail":{"field":"s"}}}]},
{"width":1,"height":1,"view":{"stroke":"transparent"},"data":{"values":[]},"mark":"point"},
{"width":496,"height":183,"data":{"name":"b3"},"encoding":{"x":{"field":"x","type":"quantitative","scale":{"domain":[-3.62,3.66],"nice":false,"zero":false},"axis":{"values":[-3.5,-3,-2.5,-2,-1.5,-1,-0.5,0,0.5,1,1.5,2,2.5,3,3.5],"labels":false,"ticks":false,"title":null,"gridColor":{"condition":{"test":"datum.value % 1 === 0","value":"#E3E3E3"},"value":"#F5F5F5"},"gridWidth":{"condition":{"test":"datum.value % 1 === 0","value":2},"value":1.2}}},"y":{"field":"y","type":"quantitative","scale":{"domain":[-5.33,3.7],"nice":false,"zero":false},"axis":{"values":[-5,-4,-3,-2,-1,0,1,2,3],"labels":false,"ticks":false,"title":null,"gridColor":{"condition":{"test":"datum.value % 2 === 0","value":"#E3E3E3"},"value":"#F5F5F5"},"gridWidth":{"condition":{"test":"datum.value % 2 === 0","value":2},"value":1.2}}}},"layer":[{"data":{"name":"pts"},"mark":{"type":"circle","size":90,"color":"#6495ED","opacity":0.5}},{"transform":[{"filter":"datum.s=='m'"}],"mark":{"type":"line","color":"#0000FF","strokeWidth":3}},{"transform":[{"filter":"datum.s!='m'"}],"mark":{"type":"line","color":"#FF7F50","strokeWidth":2.4},"encoding":{"detail":{"field":"s"}}}]},
{"width":30,"height":183,"view":{"fill":"#CCCCCC","stroke":"#7F7F7F","strokeWidth":1.5},"data":{"values":[{"label":"3"}]},"mark":{"type":"text","fontSize":28,"angle":90,"align":"center","baseline":"middle"},"encoding":{"text":{"field":"label"}}},

{"width":1,"height":13,"view":{"stroke":"transparent"},"data":{"values":[]},"mark":"point"},
{"width":1,"height":1,"view":{"stroke":"transparent"},"data":{"values":[]},"mark":"point"},
{"width":1,"height":1,"view":{"stroke":"transparent"},"data":{"values":[]},"mark":"point"},
{"width":1,"height":1,"view":{"stroke":"transparent"},"data":{"values":[]},"mark":"point"},

{"width":496,"height":183,"data":{"name":"a5"},"encoding":{"x":{"field":"x","type":"quantitative","scale":{"domain":[-3.62,3.66],"nice":false,"zero":false},"axis":{"values":[-3.5,-3,-2.5,-2,-1.5,-1,-0.5,0,0.5,1,1.5,2,2.5,3,3.5],"labels":false,"ticks":false,"title":null,"gridColor":{"condition":{"test":"datum.value % 1 === 0","value":"#E3E3E3"},"value":"#F5F5F5"},"gridWidth":{"condition":{"test":"datum.value % 1 === 0","value":2},"value":1.2}}},"y":{"field":"y","type":"quantitative","scale":{"domain":[-5.33,3.7],"nice":false,"zero":false},"axis":{"values":[-5,-4,-3,-2,-1,0,1,2,3],"title":"Y","titlePadding":28,"labelExpr":"datum.value % 2 === 0 ? datum.label : ''","tickOpacity":{"condition":{"test":"datum.value % 2 === 0","value":1},"value":0},"gridColor":{"condition":{"test":"datum.value % 2 === 0","value":"#E3E3E3"},"value":"#F5F5F5"},"gridWidth":{"condition":{"test":"datum.value % 2 === 0","value":2},"value":1.2}}}},"layer":[{"data":{"name":"pts"},"mark":{"type":"circle","size":90,"color":"#6495ED","opacity":0.5}},{"transform":[{"filter":"datum.s=='m'"}],"mark":{"type":"line","color":"#0000FF","strokeWidth":3}},{"transform":[{"filter":"datum.s!='m'"}],"mark":{"type":"line","color":"#FF7F50","strokeWidth":2.4},"encoding":{"detail":{"field":"s"}}}]},
{"width":1,"height":1,"view":{"stroke":"transparent"},"data":{"values":[]},"mark":"point"},
{"width":496,"height":183,"data":{"name":"b5"},"encoding":{"x":{"field":"x","type":"quantitative","scale":{"domain":[-3.62,3.66],"nice":false,"zero":false},"axis":{"values":[-3.5,-3,-2.5,-2,-1.5,-1,-0.5,0,0.5,1,1.5,2,2.5,3,3.5],"labels":false,"ticks":false,"title":null,"gridColor":{"condition":{"test":"datum.value % 1 === 0","value":"#E3E3E3"},"value":"#F5F5F5"},"gridWidth":{"condition":{"test":"datum.value % 1 === 0","value":2},"value":1.2}}},"y":{"field":"y","type":"quantitative","scale":{"domain":[-5.33,3.7],"nice":false,"zero":false},"axis":{"values":[-5,-4,-3,-2,-1,0,1,2,3],"labels":false,"ticks":false,"title":null,"gridColor":{"condition":{"test":"datum.value % 2 === 0","value":"#E3E3E3"},"value":"#F5F5F5"},"gridWidth":{"condition":{"test":"datum.value % 2 === 0","value":2},"value":1.2}}}},"layer":[{"data":{"name":"pts"},"mark":{"type":"circle","size":90,"color":"#6495ED","opacity":0.5}},{"transform":[{"filter":"datum.s=='m'"}],"mark":{"type":"line","color":"#0000FF","strokeWidth":3}},{"transform":[{"filter":"datum.s!='m'"}],"mark":{"type":"line","color":"#FF7F50","strokeWidth":2.4},"encoding":{"detail":{"field":"s"}}}]},
{"width":30,"height":183,"view":{"fill":"#CCCCCC","stroke":"#7F7F7F","strokeWidth":1.5},"data":{"values":[{"label":"5"}]},"mark":{"type":"text","fontSize":28,"angle":90,"align":"center","baseline":"middle"},"encoding":{"text":{"field":"label"}}},

{"width":1,"height":13,"view":{"stroke":"transparent"},"data":{"values":[]},"mark":"point"},
{"width":1,"height":1,"view":{"stroke":"transparent"},"data":{"values":[]},"mark":"point"},
{"width":1,"height":1,"view":{"stroke":"transparent"},"data":{"values":[]},"mark":"point"},
{"width":1,"height":1,"view":{"stroke":"transparent"},"data":{"values":[]},"mark":"point"},

{"width":496,"height":183,"data":{"name":"a10"},"encoding":{"x":{"field":"x","type":"quantitative","scale":{"domain":[-3.62,3.66],"nice":false,"zero":false},"axis":{"values":[-3.5,-3,-2.5,-2,-1.5,-1,-0.5,0,0.5,1,1.5,2,2.5,3,3.5],"labels":false,"ticks":false,"title":null,"gridColor":{"condition":{"test":"datum.value % 1 === 0","value":"#E3E3E3"},"value":"#F5F5F5"},"gridWidth":{"condition":{"test":"datum.value % 1 === 0","value":2},"value":1.2}}},"y":{"field":"y","type":"quantitative","scale":{"domain":[-5.33,3.7],"nice":false,"zero":false},"axis":{"values":[-5,-4,-3,-2,-1,0,1,2,3],"title":null,"labelExpr":"datum.value % 2 === 0 ? datum.label : ''","tickOpacity":{"condition":{"test":"datum.value % 2 === 0","value":1},"value":0},"gridColor":{"condition":{"test":"datum.value % 2 === 0","value":"#E3E3E3"},"value":"#F5F5F5"},"gridWidth":{"condition":{"test":"datum.value % 2 === 0","value":2},"value":1.2}}}},"layer":[{"data":{"name":"pts"},"mark":{"type":"circle","size":90,"color":"#6495ED","opacity":0.5}},{"transform":[{"filter":"datum.s=='m'"}],"mark":{"type":"line","color":"#0000FF","strokeWidth":3}},{"transform":[{"filter":"datum.s!='m'"}],"mark":{"type":"line","color":"#FF7F50","strokeWidth":2.4},"encoding":{"detail":{"field":"s"}}}]},
{"width":1,"height":1,"view":{"stroke":"transparent"},"data":{"values":[]},"mark":"point"},
{"width":496,"height":183,"data":{"name":"b10"},"encoding":{"x":{"field":"x","type":"quantitative","scale":{"domain":[-3.62,3.66],"nice":false,"zero":false},"axis":{"values":[-3.5,-3,-2.5,-2,-1.5,-1,-0.5,0,0.5,1,1.5,2,2.5,3,3.5],"labels":false,"ticks":false,"title":null,"gridColor":{"condition":{"test":"datum.value % 1 === 0","value":"#E3E3E3"},"value":"#F5F5F5"},"gridWidth":{"condition":{"test":"datum.value % 1 === 0","value":2},"value":1.2}}},"y":{"field":"y","type":"quantitative","scale":{"domain":[-5.33,3.7],"nice":false,"zero":false},"axis":{"values":[-5,-4,-3,-2,-1,0,1,2,3],"labels":false,"ticks":false,"title":null,"gridColor":{"condition":{"test":"datum.value % 2 === 0","value":"#E3E3E3"},"value":"#F5F5F5"},"gridWidth":{"condition":{"test":"datum.value % 2 === 0","value":2},"value":1.2}}}},"layer":[{"data":{"name":"pts"},"mark":{"type":"circle","size":90,"color":"#6495ED","opacity":0.5}},{"transform":[{"filter":"datum.s=='m'"}],"mark":{"type":"line","color":"#0000FF","strokeWidth":3}},{"transform":[{"filter":"datum.s!='m'"}],"mark":{"type":"line","color":"#FF7F50","strokeWidth":2.4},"encoding":{"detail":{"field":"s"}}}]},
{"width":30,"height":183,"view":{"fill":"#CCCCCC","stroke":"#7F7F7F","strokeWidth":1.5},"data":{"values":[{"label":"10"}]},"mark":{"type":"text","fontSize":28,"angle":90,"align":"center","baseline":"middle"},"encoding":{"text":{"field":"label"}}},

{"width":1,"height":13,"view":{"stroke":"transparent"},"data":{"values":[]},"mark":"point"},
{"width":1,"height":1,"view":{"stroke":"transparent"},"data":{"values":[]},"mark":"point"},
{"width":1,"height":1,"view":{"stroke":"transparent"},"data":{"values":[]},"mark":"point"},
{"width":1,"height":1,"view":{"stroke":"transparent"},"data":{"values":[]},"mark":"point"},

{"width":496,"height":183,"data":{"name":"a20"},"encoding":{"x":{"field":"x","type":"quantitative","scale":{"domain":[-3.62,3.66],"nice":false,"zero":false},"axis":{"values":[-3.5,-3,-2.5,-2,-1.5,-1,-0.5,0,0.5,1,1.5,2,2.5,3,3.5],"title":"X","titleX":487,"titlePadding":8,"labelExpr":"datum.value % 1 === 0 ? (datum.value < 0 ? '−' + abs(datum.value) : '' + datum.value) : ''","tickOpacity":{"condition":{"test":"datum.value % 1 === 0","value":1},"value":0},"gridColor":{"condition":{"test":"datum.value % 1 === 0","value":"#E3E3E3"},"value":"#F5F5F5"},"gridWidth":{"condition":{"test":"datum.value % 1 === 0","value":2},"value":1.2}}},"y":{"field":"y","type":"quantitative","scale":{"domain":[-5.33,3.7],"nice":false,"zero":false},"axis":{"values":[-5,-4,-3,-2,-1,0,1,2,3],"title":null,"labelExpr":"datum.value % 2 === 0 ? datum.label : ''","tickOpacity":{"condition":{"test":"datum.value % 2 === 0","value":1},"value":0},"gridColor":{"condition":{"test":"datum.value % 2 === 0","value":"#E3E3E3"},"value":"#F5F5F5"},"gridWidth":{"condition":{"test":"datum.value % 2 === 0","value":2},"value":1.2}}}},"layer":[{"data":{"name":"pts"},"mark":{"type":"circle","size":90,"color":"#6495ED","opacity":0.5}},{"transform":[{"filter":"datum.s=='m'"}],"mark":{"type":"line","color":"#0000FF","strokeWidth":3}},{"transform":[{"filter":"datum.s!='m'"}],"mark":{"type":"line","color":"#FF7F50","strokeWidth":2.4},"encoding":{"detail":{"field":"s"}}}]},
{"width":1,"height":1,"view":{"stroke":"transparent"},"data":{"values":[]},"mark":"point"},
{"width":496,"height":183,"data":{"name":"b20"},"encoding":{"x":{"field":"x","type":"quantitative","scale":{"domain":[-3.62,3.66],"nice":false,"zero":false},"axis":{"values":[-3.5,-3,-2.5,-2,-1.5,-1,-0.5,0,0.5,1,1.5,2,2.5,3,3.5],"title":null,"labelExpr":"datum.value % 1 === 0 ? (datum.value < 0 ? '−' + abs(datum.value) : '' + datum.value) : ''","tickOpacity":{"condition":{"test":"datum.value % 1 === 0","value":1},"value":0},"gridColor":{"condition":{"test":"datum.value % 1 === 0","value":"#E3E3E3"},"value":"#F5F5F5"},"gridWidth":{"condition":{"test":"datum.value % 1 === 0","value":2},"value":1.2}}},"y":{"field":"y","type":"quantitative","scale":{"domain":[-5.33,3.7],"nice":false,"zero":false},"axis":{"values":[-5,-4,-3,-2,-1,0,1,2,3],"labels":false,"ticks":false,"title":null,"gridColor":{"condition":{"test":"datum.value % 2 === 0","value":"#E3E3E3"},"value":"#F5F5F5"},"gridWidth":{"condition":{"test":"datum.value % 2 === 0","value":2},"value":1.2}}}},"layer":[{"data":{"name":"pts"},"mark":{"type":"circle","size":90,"color":"#6495ED","opacity":0.5}},{"transform":[{"filter":"datum.s=='m'"}],"mark":{"type":"line","color":"#0000FF","strokeWidth":3}},{"transform":[{"filter":"datum.s!='m'"}],"mark":{"type":"line","color":"#FF7F50","strokeWidth":2.4},"encoding":{"detail":{"field":"s"}}}]},
{"width":30,"height":183,"view":{"fill":"#CCCCCC","stroke":"#7F7F7F","strokeWidth":1.5},"data":{"values":[{"label":"20"}]},"mark":{"type":"text","fontSize":28,"angle":90,"align":"center","baseline":"middle"},"encoding":{"text":{"field":"label"}}}
],
"config": {
"font": "Liberation Sans",
"view": {"stroke": "#7F7F7F", "strokeWidth": 1.5},
"axis": {"domain": false, "labelFont": "Liberation Sans", "labelFontSize": 25, "labelColor": "#000000", "tickColor": "#333333", "tickSize": 8, "tickWidth": 1.5, "titleFont": "Liberation Sans", "titleFontSize": 32, "titleFontWeight": "normal", "titleColor": "#000000", "labelOverlap": false, "labelFlush": false, "labelBound": false, "gridOpacity": 1},
"axisX": {"labelPadding": 9},
"axisY": {"labelPadding": 10},
"text": {"font": "Liberation Sans", "color": "#000000"}
}
}
